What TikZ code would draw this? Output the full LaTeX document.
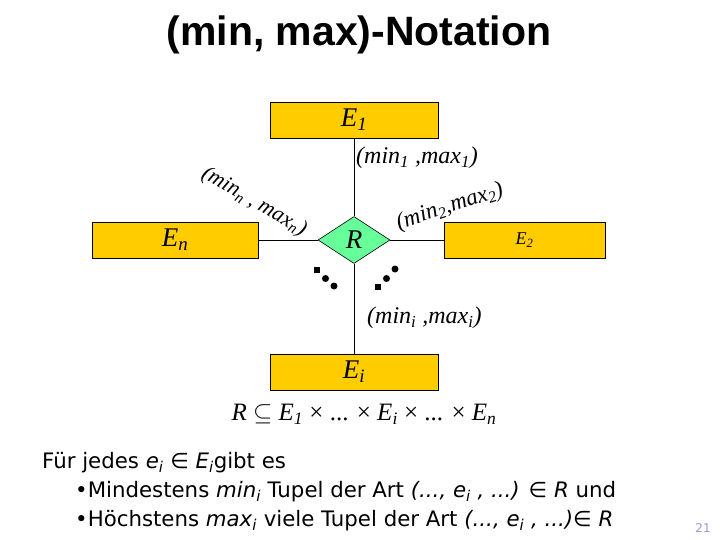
\documentclass[tikz,border=0pt]{standalone}
\usepackage{fontspec}
\setmainfont{Liberation Serif}
\newfontfamily\titlefont{Liberation Sans}
\newfontfamily\bodyfont{DejaVu Sans}
\usetikzlibrary{shapes.geometric}
\definecolor{boxfill}{HTML}{FFCC00}
\definecolor{relfill}{HTML}{66FF99}
\definecolor{pagecol}{HTML}{9999CC}
\begin{document}
\begin{tikzpicture}[x=1pt,y=-1pt,
  entity/.style={draw=black,line width=0.8pt,fill=boxfill,minimum width=168pt,minimum height=36pt,inner sep=0pt,font=\fontsize{27}{29}\selectfont\itshape},
  relation/.style={diamond,draw=black,line width=0.6pt,fill=relfill,minimum width=72pt,minimum height=47pt,inner sep=0pt,aspect=1.55,font=\fontsize{27}{29}\selectfont\itshape},
  conn/.style={line width=0.8pt},
  card/.style={font=\fontsize{24}{26}\selectfont\itshape,inner sep=0pt},
  dotsq/.style={fill=black,minimum size=6pt,inner sep=0pt},
  dotci/.style={circle,fill=black,minimum size=7pt,inner sep=0pt},
  body/.style={font=\bodyfont\fontsize{21.3}{24}\selectfont,anchor=base west,inner sep=0pt}]
\useasboundingbox (0,0) rectangle (720,540);
\node[font=\titlefont\bfseries\fontsize{41}{43}\selectfont] (title) at (359,35) {(min, max)-Notation};

\node[entity] (E1) at (354,120) {E\textsubscript{1}};
\node[entity,minimum width=166pt] (En) at (175,240) {E\textsubscript{n}};
\node[entity,minimum width=161pt,font=\fontsize{18}{20}\selectfont\itshape] (E2) at (524.5,240) {E\textsubscript{2}};
\node[entity] (Ei) at (354,372) {E\textsubscript{i}};
\node[relation] (R) at (354,240) {R};

\draw[conn] (E1) -- (R);
\draw[conn] (En) -- (R);
\draw[conn] (R) -- (E2);
\draw[conn] (R) -- (Ei);

\node[card,anchor=west] (c1) at (356,158) {(min\textsubscript{1} ,max\textsubscript{1})};
\node[card,anchor=west] (ci) at (367,318) {(min\textsubscript{i} ,max\textsubscript{i})};
\node[card,rotate=-30,font=\fontsize{22}{24}\selectfont\itshape] (cn) at (254,202) {(min\textsubscript{n} , max\textsubscript{n})};
\node[card,rotate=18,font=\fontsize{23}{25}\selectfont\itshape] (c2) at (450,207) {(min\textsubscript{2},max\textsubscript{2})};

\node[dotsq] (d1) at (317,270) {};
\node[dotci] (d2) at (325.5,278.5) {};
\node[dotci] (d3) at (334,286) {};
\node[dotci] (d4) at (395,269) {};
\node[dotci] (d5) at (386.5,278.5) {};
\node[dotsq] (d6) at (378,287) {};

\node[font=\fontsize{25}{27}\selectfont,inner sep=0pt] (form) at (364,414) {\textit{R} $\subseteq$ \textit{E\textsubscript{1}} × ... × \textit{E\textsubscript{i}} × ... × \textit{E\textsubscript{n}}};

\node[body] (l1) at (42,468) {Für jedes \textit{e\textsubscript{i}} ∈ \textit{E\textsubscript{i}}gibt es};
\node[body] (l2) at (75,497) {•Mindestens \textit{min\textsubscript{i}} Tupel der Art \textit{(..., e\textsubscript{i} , ...)} ∈ \textit{R} und};
\node[body] (l3) at (75,526) {•Höchstens \textit{max\textsubscript{i}} viele Tupel der Art \textit{(..., e\textsubscript{i} , ...)}∈ \textit{R}};

\node[font=\bodyfont\fontsize{12}{14}\selectfont,text=pagecol,inner sep=0pt] (pg) at (703,528) {21};
\end{tikzpicture}
\end{document}
